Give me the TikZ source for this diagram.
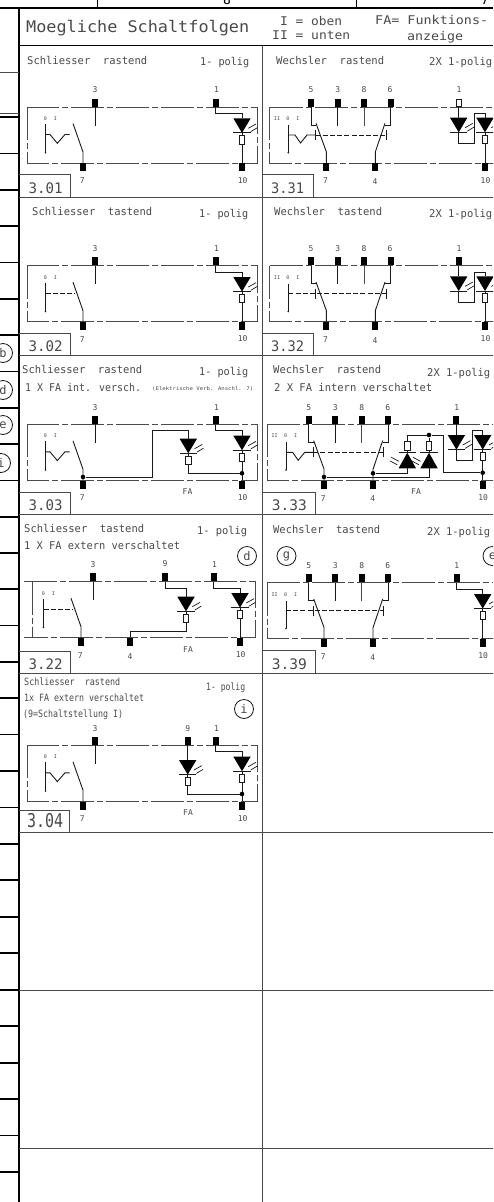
\documentclass[tikz,border=0pt]{standalone}
\usepackage{fontspec}
\usepackage{graphicx}
\setmainfont{DejaVu Sans Mono}
\definecolor{ink}{HTML}{1A1A1A}
\definecolor{txt}{HTML}{4A4A4A}
\definecolor{rul}{HTML}{4A4A4A}
\newcount\labc
% fitted text: x, y centre, width, font size, text
\newcommand{\lab}[5]{\global\advance\labc by 1
  \node[anchor=base west,inner sep=0,text=txt,yshift={-0.36*#4 pt}] (t\the\labc) at (#1,#2)
    {\resizebox{#3pt}{\height}{\fontsize{#4}{#4}\selectfont #5}};}
\newcommand{\num}[3]{\global\advance\labc by 1
  \node[numlab] (t\the\labc) at (#1,#2) {#3};}
\newcommand{\idbox}[5]{% top, right, row line, text centre, text
  \draw[rowline] (19,#1) -| (#2,#3);
  \lab{28.5}{#4}{34}{14.5}{#5}}
\tikzset{
  wire/.style={draw=ink,line width=0.9pt,line join=miter},
  gwire/.style={draw=rul,line width=0.9pt},
  term/.style={rectangle,fill=black,draw=none,minimum width=6pt,minimum height=8pt,inner sep=0},
  termh/.style={rectangle,fill=white,draw=ink,line width=0.8pt,minimum width=5pt,minimum height=7.5pt,inner sep=0},
  dd/.style={draw=rul,line width=0.9pt,dash pattern=on 33pt off 3pt on 6pt off 3pt},
  dsh/.style={draw=ink,line width=0.8pt,dash pattern=on 5pt off 2.2pt},
  rowline/.style={draw=rul,line width=0.9pt},
  heavy/.style={draw=black,line width=1.5pt},
  numlab/.style={inner sep=0,text=txt,font=\fontsize{8}{8}\selectfont},
  small/.style={inner sep=0,text=txt,font=\fontsize{5}{5}\selectfont},
  circ/.style={circle,draw=ink,line width=0.8pt,minimum size=19pt,inner sep=0,text=txt,font=\fontsize{12}{12}\selectfont},
  jdot/.style={circle,fill=black,inner sep=0,minimum size=4.6pt},
}
% LED, apex down: top centre at given point
\newcommand{\ledbody}[3]{\begin{scope}[shift={(#2,#3)}]
  \coordinate (#1-A) at (0,0);
  \coordinate (#1-K) at (0,14.6);
  \fill[black] (-8.7,0) -- (8.7,0) -- (0,14.6) -- cycle;
  \draw[wire] (-8.7,14.6) -- (8.7,14.6);
  \draw[draw=ink,line width=0.7pt] (6.3,10) -- (14,5.7) (8.7,13.4) -- (15.3,9.4);
  \end{scope}}
\newcommand{\led}[3]{\ledbody{#1}{#2}{#3}
  \begin{scope}[shift={(#2,#3)}]
  \draw[wire] (0,14.6) -- (0,17.4);
  \draw[wire,fill=white] (-2.7,17.4) rectangle (2.7,25.7);
  \coordinate (#1-R) at (0,25.7);
  \end{scope}}
% LED, apex up: centre of the base at the given point
\newcommand{\ledup}[3]{\begin{scope}[shift={(#2,#3)}]
  \coordinate (#1-A) at (0,0);
  \coordinate (#1-R) at (0,-26.6);
  \fill[black] (-8.7,0) -- (8.7,0) -- (0,-15.6) -- cycle;
  \draw[wire] (-8.7,-15.6) -- (8.7,-15.6);
  \draw[wire] (0,-15.6) -- (0,-18.3);
  \draw[wire,fill=white] (-2.7,-18.3) rectangle (2.7,-26.6);
  \draw[draw=ink,line width=0.7pt] (-16,-11) -- (-8.5,-7) (-17.5,-7.5) -- (-10,-3.5);
  \end{scope}}
% left column cell
\newcommand{\mechlabL}{\node[small] (m0) at (45.3,118.7) {0}; \node[small] (m1) at (55.3,118.7) {I};
  \draw[wire] (45.5,124) -- (45.5,152.7);
  \fill[ink] (45.5,152.7) circle (0.9);}
\newcommand{\rastL}{\mechlabL
  \draw[wire] (45.5,134.5) -- (50,134.5) -- (57.3,143.3) -- (65,134.5) -- (69.5,134.5);}
\newcommand{\tastL}{\mechlabL
  \draw[dsh] (45.5,135) -- (75,135);}
\newcommand{\leftbox}{\draw[dd] (27,107) rectangle (257,163);}
\newcommand{\leftcell}[1]{%
  \leftbox
  \node[term] (T3) at (95,102.7) {};
  \node[term] (T1) at (215.5,102.7) {};
  \node[term] (T7) at (83,167.3) {};
  \node[term] (T10) at (242,167.3) {};
  \num{95}{90}{3} \num{216.5}{90}{1} \num{82.3}{180.7}{7} \num{242.7}{180.3}{10}
  \draw[wire] (T3.south) -- (95,125.7);
  \draw[wire] (T7.north) -- (83,152) -- (73,123.5);
  \led{L2}{242}{118.3}
  \draw[wire] (T1.south) -- ++(0,6.5) -| (L2-A);
  \draw[wire] (L2-R) -- (T10.north);
  #1}
% right column cell
\newcommand{\mechlabR}{\node[small] (m0) at (277,118.7) {II}; \node[small] (m1) at (288,118.7) {0}; \node[small] (m2) at (298,118.7) {I};
  \draw[wire] (288.3,125) -- (288.3,152.7);
  \fill[ink] (288.3,152.7) circle (0.9);
  \draw[wire] (315.5,130) -- (315.5,140);
  \draw[wire] (386,130) -- (386,140);}
\newcommand{\rastR}{\mechlabR
  \draw[wire] (288.3,135) -- (295,135) -- (300.5,143) -- (307,135) -- (315.5,135);
  \draw[dsh] (315.5,135) -- (386,135);}
\newcommand{\tastR}{\mechlabR
  \draw[dsh] (288.3,135) -- (386,135);}
\newcommand{\rightcell}[1]{%
  \draw[dd] (269.5,107) rectangle (500,163);
  \node[term] (T5) at (311,102.7) {};
  \node[term] (T3) at (337.7,102.7) {};
  \node[term] (T8) at (364,102.7) {};
  \node[term] (T6) at (390.7,102.7) {};
  \node[term] (T7) at (326.3,167.3) {};
  \node[term] (T4) at (375.3,167.3) {};
  \node[term] (T10) at (485,167.3) {};
  \num{311}{90}{5} \num{337.7}{90}{3} \num{364}{90}{8} \num{390}{90}{6}
  \num{325.5}{181}{7} \num{375}{181.5}{4} \num{485.5}{180.3}{10}
  \draw[wire] (T5.south) -- (311,125) -- (316,125);
  \draw[wire] (T3.south) -- (337.7,125.7);
  \draw[gwire] (T8.south) -- (364,125.7);
  \draw[wire] (T6.south) -- (390.7,125) -- (385,125);
  \draw[wire] (T7.north) -- (326.3,151.7) -- (316,123.3);
  \draw[wire] (T4.north) -- (375.3,152) -- (385,123.3);
  #1}
\newcommand{\twoled}{%
  \ledbody{L1}{458.7}{117.7}
  \led{L2}{485}{117.7}
  \draw[wire] (T1.south) -- (L1-A);
  \draw[wire] (L1-K) |- (474.3,143.3) -- (474.3,113.3) -| (L2-A);
  \draw[wire] (L2-R) -- (T10.north);}
\begin{document}
\begin{tikzpicture}[x=1pt,y=-1pt]
\useasboundingbox (0,0) rectangle (493,1202);
\fill[white] (0,0) rectangle (493,1202);
\clip (0,0) rectangle (493,1202);
% frame
\draw[heavy] (0,8) -- (493,8);
\draw[heavy] (97.5,0) -- (97.5,8);
\draw[heavy] (356.5,0) -- (356.5,8);
\draw[heavy] (19,8) -- (19,1202);
\draw[heavy] (19,45.5) -- (493,45.5);
\draw[rowline] (262,45.5) -- (262,1202);
\foreach \yy in {197,355.7,514.3,673.3,832.3,990.3,1148.3}
  \draw[rowline] (19,\yy) -- (493,\yy);
\draw[rowline] (0,72) -- (19,72);
\draw[rowline] (0,113) -- (19,113);
\foreach \yy in {117,153.5,190,226,262.5,299,335,371.5,408,444,480.5,517,553,589,625.5,662,698,734.5,771,807.5,844,880,917,953,990,1026,1063,1099,1135.5,1172}
  \draw[draw=black,line width=1.2pt] (0,\yy) -- (19,\yy);
\node[inner sep=0,text=black,font=\fontsize{13}{13}\selectfont] (n8) at (227,0) {8};
\node[inner sep=0,text=black,font=\fontsize{13}{13}\selectfont] (n7) at (485,0) {7};
% left circles
\node[circ,fill=white] (cb) at (3,353) {b};
\node[circ,fill=white] (cd) at (3,390) {d};
\node[circ,fill=white] (ce) at (3,425) {e};
\node[circ,fill=white] (ci) at (1,463) {i};
% header
\lab{26}{26.5}{223}{16}{Moegliche Schaltfolgen}
\lab{280}{21}{62}{12}{I = oben}
\lab{272}{35}{78}{12}{II = unten}
\lab{375}{20}{113}{12}{FA= Funktions-}
\lab{407}{36}{56}{12}{anzeige}
% cell headings
\lab{27}{61}{120}{10.7}{Schliesser\ \ rastend}
\lab{200}{61.5}{49}{10.7}{1- polig}
\lab{276}{61}{108}{10.7}{Wechsler\ \ rastend}
\lab{429}{62}{63}{10.7}{2X 1-polig}
\lab{32}{212}{120}{10.7}{Schliesser\ \ tastend}
\lab{199}{213.5}{49}{10.7}{1- polig}
\lab{274}{212}{108}{10.7}{Wechsler\ \ tastend}
\lab{429}{214}{63}{10.7}{2X 1-polig}
\lab{22}{369.5}{120}{10.7}{Schliesser\ \ rastend}
\lab{199}{372}{49}{10.7}{1- polig}
\lab{25}{388}{116}{10.7}{1 X FA int. versch.}
\lab{152}{388.5}{101}{5}{(Elektrische Verb. Anschl. 7)}
\lab{273}{370}{108}{10.7}{Wechsler\ \ rastend}
\lab{427}{373}{63}{10.7}{2X 1-polig}
\lab{274}{388}{158}{10.7}{2 X FA intern verschaltet}
\lab{24}{529}{120}{10.7}{Schliesser\ \ tastend}
\lab{197}{530.5}{50}{10.7}{1- polig}
\lab{24}{545.5}{156}{10.7}{1 X FA extern verschaltet}
\node[circ] (c1) at (247,556) {d};
\lab{273}{530}{107}{10.7}{Wechsler\ \ tastend}
\lab{427}{532}{63}{10.7}{2X 1-polig}
\node[circ] (c2) at (286.5,556) {g};
\node[circ] (c3) at (492.5,556) {e};
\lab{24}{682}{96}{10}{Schliesser\ \ rastend}
\lab{206}{687}{39}{10}{1- polig}
\lab{24}{698}{120}{10}{1x FA extern verschaltet}
\lab{23}{714}{100}{10}{(9=Schaltstellung I)}
\node[circ] (c4) at (244,709) {i};
% id boxes
\idbox{174.3}{70.7}{197}{188}{3.01}
\idbox{333.3}{70.7}{355.7}{346.7}{3.02}
\idbox{492}{70.7}{514.3}{505}{3.03}
\idbox{651}{70}{673.3}{664}{3.22}
\draw[rowline] (19,810) -| (69.7,832.3);
\lab{27}{820.7}{36}{19}{3.04}
\draw[rowline] (262,174.3) -| (313.3,197);
\lab{271}{188}{33}{14.5}{3.31}
\draw[rowline] (262,333.3) -| (313.3,355.7);
\lab{271}{346.7}{33}{14.5}{3.32}
\draw[rowline] (262,492) -| (315.3,514.3);
\lab{271.7}{505}{35}{14.5}{3.33}
\draw[rowline] (262,650) -| (315.3,673.3);
\lab{271.7}{664}{35}{14.5}{3.39}
% left column
\begin{scope}[name prefix=a-]
  \leftcell{\rastL}
\end{scope}
\begin{scope}[name prefix=b-,shift={(0,158.7)}]
  \leftcell{\tastL}
\end{scope}
\begin{scope}[name prefix=c-,shift={(0,317.3)}]
  \leftcell{\rastL
    \led{L1}{188.3}{121.4}
    \node[jdot] (J7) at (83,159.7) {};
    \node[jdot] (J10) at (242,156) {};
    \draw[wire] (J7) -- (152.3,159.7) -- (152.3,113.4) -| (L1-A);
    \draw[wire] (L1-R) |- (J10);
    \num{187.5}{174.4}{FA}}
\end{scope}
\begin{scope}[name prefix=d-,shift={(-2,474.7)}]
  \renewcommand{\leftbox}{\draw[dd] (34,107) -- (26,107) (26,107) -- (257.7,107) -- (257.7,163) -- (26,163);
    \draw[dd] (34,107) -- (34,163);}
  \leftcell{\tastL
    \node[term] (T9) at (167,102.7) {};
    \node[term] (T4) at (132,167.3) {};
    \num{167}{89.3}{9} \num{132}{181.7}{4} \num{190}{175}{FA}
    \led{L1}{188}{122}
    \draw[wire] (T9.south) -- ++(0,6.5) -| (L1-A);
    \draw[wire] (L1-R) -- (188,156.3) -| (T4.north);}
\end{scope}
\begin{scope}[name prefix=e-,shift={(0,638.3)}]
  \leftcell{\rastL
    \node[term] (T9) at (187.7,102.7) {};
    \num{187.7}{90}{9} \num{188}{174}{FA}
    \led{L1}{187.7}{121.7}
    \node[jdot] (J10) at (242,155.7) {};
    \draw[wire] (T9.south) -- (L1-A);
    \draw[wire] (L1-R) |- (J10);}
\end{scope}
% right column
\begin{scope}[name prefix=f-]
  \rightcell{\rastR
    \node[termh] (T1) at (458.7,102.7) {};
    \num{459}{90}{1}
    \twoled}
\end{scope}
\begin{scope}[name prefix=g-,shift={(0,158.7)}]
  \rightcell{\tastR
    \node[term] (T1) at (458.7,102.7) {};
    \num{459}{90}{1}
    \twoled}
\end{scope}
\begin{scope}[name prefix=h-,shift={(-2.3,317.3)}]
  \rightcell{\rastR
    \node[term] (T1) at (458.7,102.7) {};
    \num{459}{90}{1}
    \twoled
    \ledup{LA}{409.6}{151}
    \ledup{LB}{431.3}{151}
    \node[jdot] (J1) at (431.3,117.7) {};
    \node[jdot] (J10) at (485,155.4) {};
    \node[jdot] (J4) at (375.3,156) {};
    \node[jdot] (J7) at (326.3,159.7) {};
    \draw[wire] (LA-R) |- (J1);
    \draw[wire] (LB-R) -- (J1);
    \draw[wire] (J1) -- (445.6,117.7) -- (445.6,155.4) -- (J10);
    \draw[wire] (LA-A) |- (J4);
    \draw[wire] (LB-A) |- (J7);
    \num{418.3}{174.7}{FA}}
\end{scope}
\begin{scope}[name prefix=i-,shift={(-2.3,475.7)}]
  \rightcell{\tastR
    \node[term] (T1) at (459,102.7) {};
    \num{459}{90}{1}
    \led{L2}{485}{118.3}
    \draw[wire] (T1.south) -- ++(0,6.9) -| (L2-A);
    \draw[wire] (L2-R) -- (T10.north);}
\end{scope}
\end{tikzpicture}
\end{document}
